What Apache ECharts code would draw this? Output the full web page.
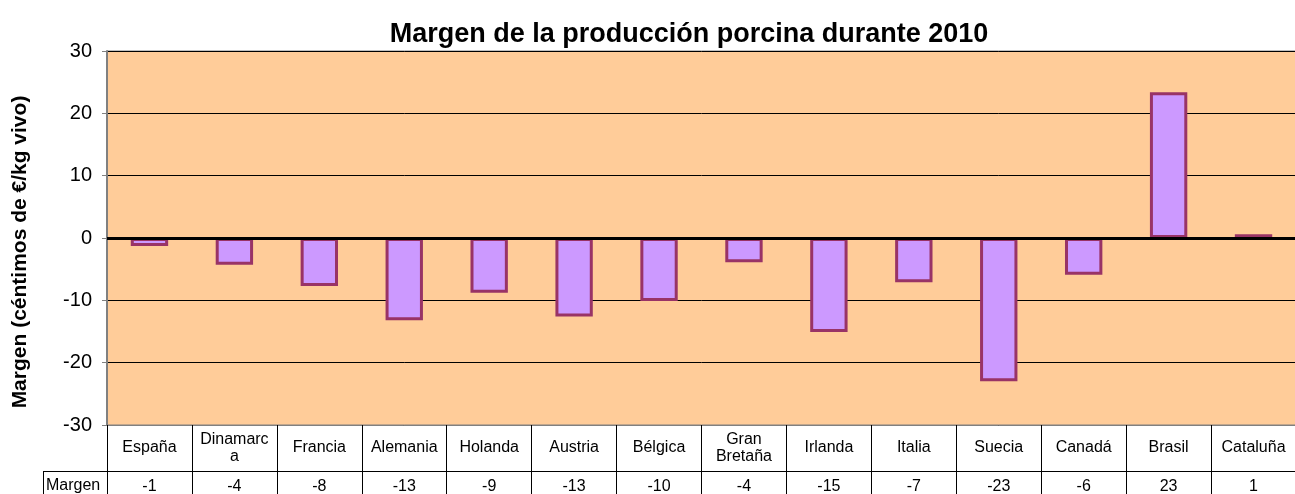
<!DOCTYPE html>
<html>
<head>
<meta charset="utf-8">
<title>Margen de la producción porcina durante 2010</title>
<script src="https://cdn.jsdelivr.net/npm/echarts@6/dist/echarts.min.js"></script>
<style>
  html, body { margin: 0; padding: 0; background: #fff; }
  #chart { width: 1295px; height: 494px; }
</style>
</head>
<body>
<div id="chart"></div>
<script>
// datos (céntimos de €/kg vivo)
var paises = ["España", "Dinamarca", "Francia", "Alemania", "Holanda", "Austria", "Bélgica",
  "Gran Bretaña", "Irlanda", "Italia", "Suecia", "Canadá", "Brasil", "Cataluña"];
var margen = [-1.3, -4.3, -7.7, -13.2, -8.8, -12.6, -10.1, -3.9, -15.1, -7.1, -23.0, -5.9, 23.4, 0.6];
// fila "Margen" de la tabla inferior
var margenTabla = [-1, -4, -8, -13, -9, -13, -10, -4, -15, -7, -23, -6, 23, 1];
// cortes de linea como en la tabla original
var etiquetas = { "Dinamarca": "Dinamarc\na", "Gran Bretaña": "Gran\nBretaña" };

var font = "'Liberation Sans', Arial, sans-serif";
var chart = echarts.init(document.getElementById("chart"));

var option = {
  animation: false,
  textStyle: { fontFamily: font },
  title: {
    text: "Margen de la producción porcina durante 2010",
    left: 684,
    textAlign: "center",
    top: 16,
    textStyle: { fontFamily: font, fontSize: 27, fontWeight: "bold", color: "#000" }
  },
  grid: {
    left: 107,
    right: -1,
    top: 51,
    bottom: 69,
    outerBoundsMode: "none",
    containLabel: false,
    show: true,
    backgroundColor: "#FFCC99",
    borderColor: "#808080",
    borderWidth: 1
  },
  xAxis: [
    {
      type: "category",
      data: paises,
      position: "bottom",
      axisLine: { onZero: false, lineStyle: { color: "#808080", width: 1 } },
      axisTick: { show: true, length: 70, lineStyle: { color: "#000", width: 1 } },
      axisLabel: {
        margin: 23,
        verticalAlign: "middle",
        fontFamily: font,
        fontSize: 16,
        lineHeight: 17,
        color: "#000",
        interval: 0,
        formatter: function(v) { return etiquetas[v] || v; }
      }
    },
    {
      type: "category",
      data: paises,
      position: "bottom",
      axisLine: { show: false },
      axisTick: { show: false },
      axisLabel: {
        margin: 62,
        verticalAlign: "middle",
        fontFamily: font,
        fontSize: 16,
        color: "#000",
        interval: 0,
        formatter: function(v, i) { return String(margenTabla[i]); }
      }
    }
  ],
  yAxis: {
    type: "value",
    min: -30,
    max: 30,
    interval: 10,
    name: "Margen (céntimos de €/kg vivo)",
    nameLocation: "middle",
    nameRotate: 90,
    nameGap: 76,
    nameTextStyle: {
      fontFamily: font, fontSize: 21, fontWeight: "bold", color: "#000",
      padding: [0, 28, 0, 0]
    },
    axisLine: { show: true, lineStyle: { color: "#808080", width: 2 } },
    axisTick: { show: true, length: 5, lineStyle: { color: "#808080" } },
    axisLabel: { margin: 15, fontFamily: font, fontSize: 20, color: "#000" },
    splitLine: { show: true, lineStyle: { color: "#000", width: 1 } }
  },
  series: [
    {
      name: "Margen",
      type: "bar",
      data: margen,
      barWidth: "44%",
      itemStyle: { color: "#CC99FF", borderColor: "#993366", borderWidth: 3 },
      markLine: {
        silent: true,
        symbol: "none",
        label: { show: false },
        lineStyle: { color: "#000", width: 3, type: "solid" },
        data: [{ yAxis: 0 }]
      }
    }
  ],
  graphic: [
    { type: "line", shape: { x1: 43, y1: 471.5, x2: 1295, y2: 471.5 }, style: { stroke: "#000", lineWidth: 1 } },
    { type: "line", shape: { x1: 43.5, y1: 471, x2: 43.5, y2: 494 }, style: { stroke: "#000", lineWidth: 1 } },
    { type: "text", left: 46, top: 478, style: { text: "Margen", font: "16px " + font, fill: "#000" } }
  ]
};

chart.setOption(option);
</script>
</body>
</html>
